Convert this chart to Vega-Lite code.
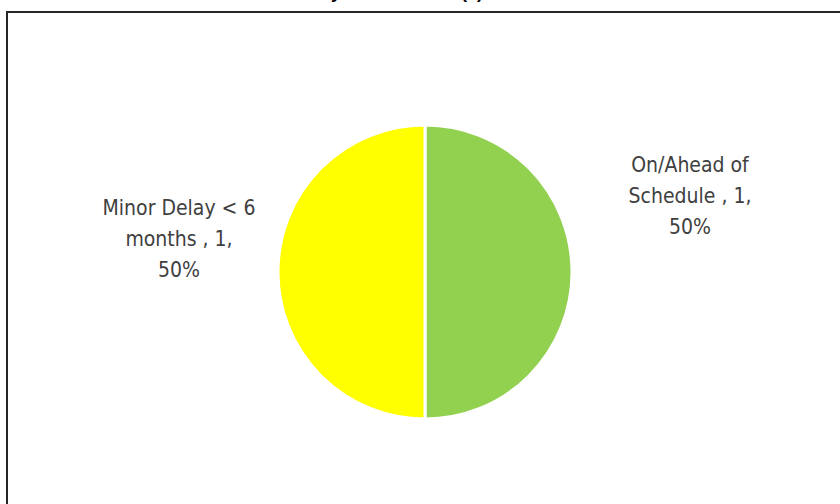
{
  "$schema": "https://vega.github.io/schema/vega-lite/v6.json",
  "width": 836,
  "height": 520,
  "autosize": {"type": "none"},
  "padding": {"left": 7, "top": 12, "right": 0, "bottom": 0},
  "background": "white",
  "view": {"stroke": "#262626", "strokeWidth": 2, "fill": "white"},
  "title": {
    "text": "Delivery Performance (2)",
    "font": "Liberation Sans",
    "fontSize": 18,
    "fontWeight": "bold",
    "color": "#000000",
    "anchor": "middle",
    "baseline": "bottom",
    "offset": 0,
    "dy": 8,
    "dx": -48
  },
  "data": {
    "values": [
      {"status": "On/Ahead of Schedule", "count": 1, "label": "On/Ahead of\nSchedule , 1,\n50%"},
      {"status": "Minor Delay < 6 months", "count": 1, "label": "Minor Delay < 6\nmonths , 1,\n50%"}
    ]
  },
  "encoding": {
    "theta": {"field": "count", "type": "quantitative", "stack": true},
    "order": {"field": "status", "sort": "descending"}
  },
  "layer": [
    {
      "mark": {"type": "arc", "outerRadius": 147, "stroke": "white", "strokeWidth": 3},
      "encoding": {
        "color": {
          "field": "status",
          "type": "nominal",
          "scale": {"domain": ["On/Ahead of Schedule", "Minor Delay < 6 months"], "range": ["#92D050", "#FFFF00"]},
          "legend": null
        }
      }
    },
    {
      "mark": {"type": "text", "radius": 265, "dy": -106, "font": "DejaVu Sans Condensed, Liberation Sans", "fontSize": 21, "lineHeight": 31, "color": "#404040", "align": "center", "baseline": "middle", "lineBreak": "\n"},
      "encoding": {
        "text": {"condition": {"test": "datum.status !== 'On/Ahead of Schedule'", "value": ""}, "field": "label"}
      }
    },
    {
      "mark": {"type": "text", "radius": 246, "dy": -63, "font": "DejaVu Sans Condensed, Liberation Sans", "fontSize": 21, "lineHeight": 31, "color": "#404040", "align": "center", "baseline": "middle", "lineBreak": "\n"},
      "encoding": {
        "text": {"condition": {"test": "datum.status !== 'Minor Delay < 6 months'", "value": ""}, "field": "label"}
      }
    }
  ]
}
